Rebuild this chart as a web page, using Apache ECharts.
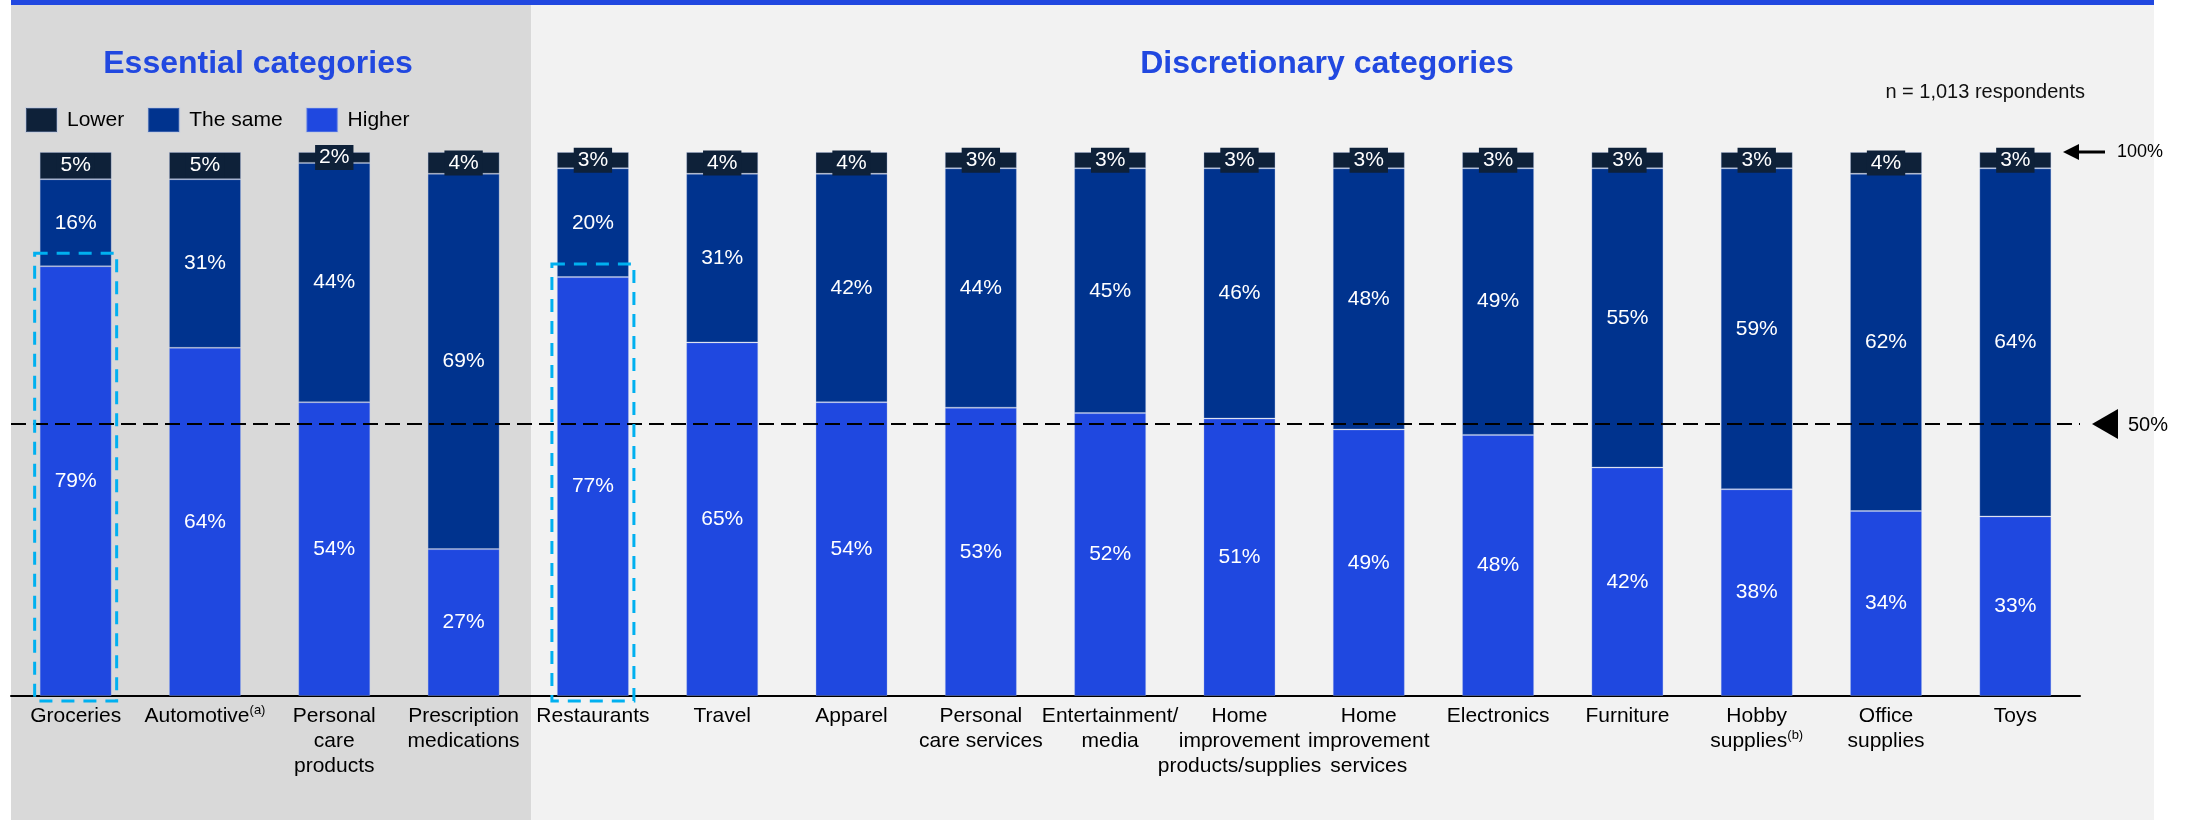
<!DOCTYPE html>
<html>
<head>
<meta charset="utf-8">
<title>Essential vs discretionary categories</title>
<script src="https://cdn.jsdelivr.net/npm/echarts@6/dist/echarts.min.js"></script>
<style>
html, body { margin: 0; padding: 0; background: #fff; }
#chart { width: 2191px; height: 820px; }
</style>
</head>
<body>
<div id="chart"></div>
<script>
// categories (line breaks as in the original slide) + footnote markers
var categories = ['Groceries', 'Automotive', 'Personal\ncare\nproducts', 'Prescription\nmedications',
  'Restaurants', 'Travel', 'Apparel', 'Personal\ncare services', 'Entertainment/\nmedia',
  'Home\nimprovement\nproducts/supplies', 'Home\nimprovement\nservices', 'Electronics',
  'Furniture', 'Hobby\nsupplies', 'Office\nsupplies', 'Toys'];
var notes = ['', '(a)', '', '', '', '', '', '', '', '', '', '', '', '(b)', '', ''];

var higher = [79, 64, 54, 27, 77, 65, 54, 53, 52, 51, 49, 48, 42, 38, 34, 33];
var same   = [16, 31, 44, 69, 20, 31, 42, 44, 45, 46, 48, 49, 55, 59, 62, 64];
var lower  = [5, 5, 2, 4, 3, 4, 4, 3, 3, 3, 3, 3, 3, 3, 4, 3];

var boxed = ['Groceries', 'Restaurants'];  // dashed highlight
var legendNames = ['Lower', 'The same', 'Higher'];

var FONT = 'Liberation Sans, Arial, sans-serif';
var cHigher = '#1f48e0', cSame = '#00338e', cLower = '#0e2139';

var chart = echarts.init(document.getElementById('chart'));

function segLabel(extra) {
  var l = {
    show: true, position: 'inside', color: '#fff',
    fontFamily: FONT, fontSize: 21,
    formatter: '{c}%'
  };
  for (var k in extra) l[k] = extra[k];
  return l;
}

var edge = { borderColor: 'rgba(170,190,235,0.3)', borderWidth: 1 };

var option = {
  animation: false,
  backgroundColor: '#fff',
  textStyle: { fontFamily: FONT },
  grid: { left: 11, right: 111, top: 152, bottom: 124 },
  legend: {
    data: legendNames,
    left: 20, top: 102,
    itemWidth: 31, itemHeight: 24, itemGap: 23,
    icon: 'rect',
    textStyle: { fontFamily: FONT, fontSize: 21, color: '#000', padding: [0, 0, 0, 5] }
  },
  xAxis: {
    type: 'category',
    data: categories,
    axisLine: { lineStyle: { color: '#000', width: 2 } },
    axisTick: { show: false },
    axisLabel: {
      interval: 0, margin: 8,
      fontFamily: FONT, fontSize: 21, lineHeight: 25, color: '#000',
      formatter: function (v, i) {
        return notes[i] ? v + '{sup|' + notes[i] + '}' : v;
      },
      rich: { sup: { fontSize: 13, lineHeight: 13, verticalAlign: 'top', color: '#000', fontFamily: FONT } }
    }
  },
  yAxis: { type: 'value', min: 0, max: 100, show: false },
  series: [
    {
      name: 'Higher', type: 'bar', stack: 'all', barWidth: 72,
      data: higher,
      itemStyle: Object.assign({ color: cHigher }, edge),
      label: segLabel({}),
      markLine: {
        silent: true, symbol: 'none',
        label: { show: false },
        lineStyle: { color: '#000', width: 2, type: [15, 7] },
        data: [{ yAxis: 50 }]
      }
    },
    {
      name: 'The same', type: 'bar', stack: 'all', barWidth: 72,
      data: same,
      itemStyle: Object.assign({ color: cSame }, edge),
      label: segLabel({})
    },
    {
      name: 'Lower', type: 'bar', stack: 'all', barWidth: 72,
      data: lower,
      itemStyle: Object.assign({ color: cLower }, edge),
      label: segLabel({ backgroundColor: cLower, padding: [2, 4, 2, 4] })
    },
    {
      name: 'box', type: 'custom', z: 5,
      data: boxed.map(function (n) {
        var i = categories.indexOf(n);
        return [i, higher[i]];
      }),
      encode: { x: 0, y: 1 },
      renderItem: function (params, api) {
        var top = api.coord([api.value(0), api.value(1)]);
        var base = api.coord([api.value(0), 0]);
        return {
          type: 'rect',
          shape: { x: top[0] - 41, y: top[1] - 13, width: 82, height: base[1] - top[1] + 18 },
          style: { fill: 'none', stroke: '#00b0f0', lineWidth: 3, lineDash: [13, 9] }
        };
      }
    }
  ]
};
chart.setOption(option);

// panels, titles and the 50% / 100% markers
var y50 = chart.convertToPixel({ yAxisIndex: 0 }, 50);
var y100 = chart.convertToPixel({ yAxisIndex: 0 }, 100);
var split = (chart.convertToPixel({ xAxisIndex: 0 }, 3) + chart.convertToPixel({ xAxisIndex: 0 }, 4)) / 2 + 3;

chart.setOption({
  graphic: [
    { type: 'rect', z: -10, shape: { x: 11, y: 0, width: split - 11, height: 820 }, style: { fill: '#d9d9d9' } },
    { type: 'rect', z: -10, shape: { x: split, y: 0, width: 2154 - split, height: 820 }, style: { fill: '#f2f2f2' } },
    { type: 'rect', z: 10, shape: { x: 11, y: 0, width: 2143, height: 5 }, style: { fill: '#2148e0' } },
    { type: 'text', x: 258, y: 64, style: { text: 'Essential categories', font: 'bold 32px ' + FONT, fill: '#2148e0', align: 'center', verticalAlign: 'middle' } },
    { type: 'text', x: 1327, y: 64, style: { text: 'Discretionary categories', font: 'bold 32px ' + FONT, fill: '#2148e0', align: 'center', verticalAlign: 'middle' } },
    { type: 'text', x: 2085, y: 92, style: { text: 'n = 1,013 respondents', font: '20px ' + FONT, fill: '#111', align: 'right', verticalAlign: 'middle' } },
    { type: 'polygon', shape: { points: [[2092, y50], [2118, y50 - 15], [2118, y50 + 15]] }, style: { fill: '#000' } },
    { type: 'text', x: 2128, y: y50 + 1, style: { text: '50%', font: '20px ' + FONT, fill: '#000', verticalAlign: 'middle' } },
    { type: 'line', shape: { x1: 2072, y1: y100, x2: 2105, y2: y100 }, style: { stroke: '#000', lineWidth: 3 } },
    { type: 'polygon', shape: { points: [[2063, y100], [2079, y100 - 8], [2079, y100 + 8]] }, style: { fill: '#000' } },
    { type: 'text', x: 2117, y: y100, style: { text: '100%', font: '18px ' + FONT, fill: '#000', verticalAlign: 'middle' } }
  ]
});
</script>
</body>
</html>
